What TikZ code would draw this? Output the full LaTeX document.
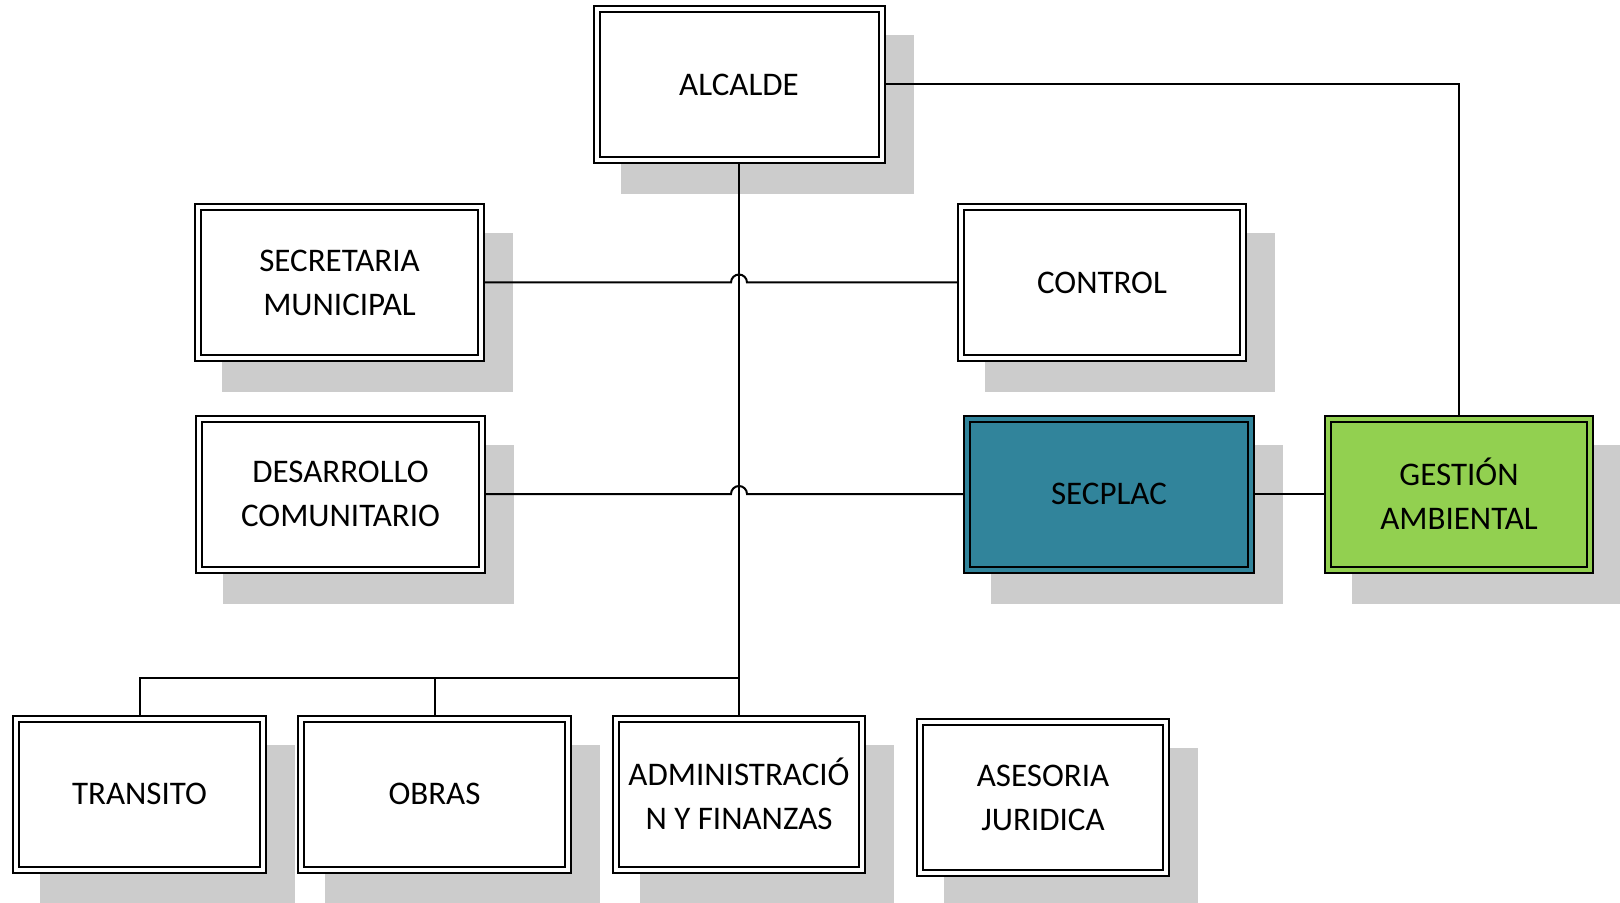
\documentclass[tikz,border=0pt]{standalone}
\usepackage{fontspec}
\setmainfont{Carlito}
\usetikzlibrary{backgrounds}
\definecolor{secplacteal}{HTML}{31849B}
\definecolor{ambgreen}{HTML}{92D050}
\definecolor{shadowgray}{HTML}{CCCCCC}

\begin{document}
\begin{tikzpicture}[x=0.5pt, y=-0.5pt,
		unit/.style={draw, line width=1pt, double=white, double distance=2pt, fill=white,
			outer sep=2pt, inner sep=0pt, minimum height=75.5pt, align=center,
			font=\fontsize{16.5}{22}\selectfont},
		conn/.style={line width=1pt}]
		\useasboundingbox (0,0) rectangle (1620,903);
		% boxes
		\node[unit, minimum width=142.5pt] (alc) at (739,84.5) {ALCALDE};
		\node[unit, minimum width=141.5pt] (sec) at (339.5,282.5) {SECRETARIA\\MUNICIPAL};
		\node[unit, minimum width=141pt] (con) at (1102,282.5) {CONTROL};
		\node[unit, minimum width=141.5pt] (des) at (340.5,494) {DESARROLLO\\COMUNITARIO};
		\node[unit, minimum width=142pt, fill=secplacteal, double=secplacteal] (spl) at (1109,494) {SECPLAC};
		\node[unit, minimum width=131pt, fill=ambgreen, double=ambgreen] (ges) at (1459,494) {GESTIÓN\\AMBIENTAL};
		\node[unit, minimum width=123.5pt] (tra) at (139.5,794) {TRANSITO};
		\node[unit, minimum width=133.5pt] (obr) at (434.5,794) {OBRAS};
		\node[unit, minimum width=123pt] (adm) at (739,794) {ADMINISTRACIÓ\\N Y FINANZAS};
		\node[unit, minimum width=123pt] (ase) at (1043,797.5) {ASESORIA\\JURIDICA};
		% shadows
		\begin{scope}[on background layer]
			\foreach \n in {alc,sec,con,des,spl,ges,tra,obr,adm,ase}{
				\fill[shadowgray] ([shift={(28,30)}]\n.north west) rectangle ([shift={(28,30)}]\n.south east);
			}
		\end{scope}
		% lines
		\coordinate (hopA) at (alc.south |- sec.east);
		\coordinate (hopB) at (alc.south |- des.east);
		\coordinate (bus) at (alc.south |- 0,678);
		\draw[conn] (alc.south) -- (adm.north);
		\draw[conn] (alc.east) -| (ges.north);
		\draw[conn] (sec.east) -- ([xshift=-4pt]hopA) arc[start angle=180, end angle=0, radius=4pt] -- (con.west);
		\draw[conn] (des.east) -- ([xshift=-4pt]hopB) arc[start angle=180, end angle=0, radius=4pt] -- (spl.west);
		\draw[conn] (spl.east) -- (ges.west);
		\draw[conn] (tra.north) |- (bus);
		\draw[conn] (obr.north) -- (obr.north |- bus);
\end{tikzpicture}
\end{document}
